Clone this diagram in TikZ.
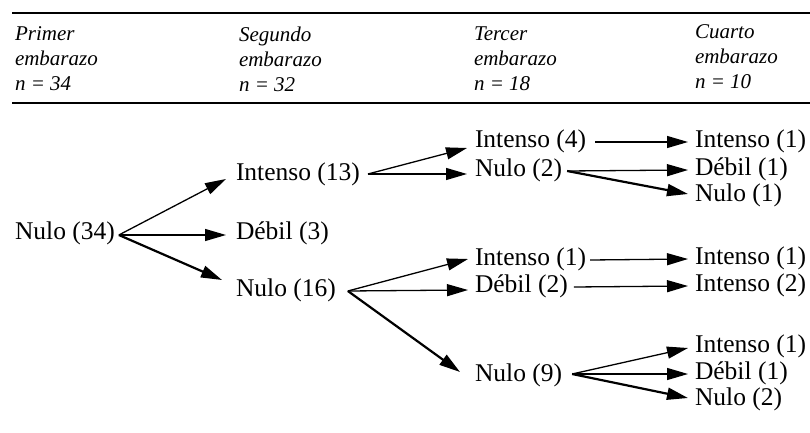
\documentclass[tikz,border=0pt]{standalone}
\usepackage{fontspec}
\setmainfont{Liberation Serif}
\usetikzlibrary{arrows.meta,calc}
\begin{document}
\begin{tikzpicture}[x=1pt,y=-1pt]
\tikzset{
  lbl/.style={anchor=west, inner sep=0pt, outer sep=0pt,
    font=\fontsize{25.5}{30}\selectfont, text height=17pt, text depth=6pt},
  hdr/.style={anchor=north west, inner sep=0pt, outer sep=0pt, align=left,
    font=\fontsize{21}{25}\selectfont\itshape},
  arr/.style={-{Triangle[length=21pt,width=12pt]}, line width=1.3pt},
  tarr/.style={arr, line width=2.2pt},
  rulebar/.style={line width=1.5pt}
}
\fill[white] (0,0) rectangle (810,433);
\useasboundingbox (0,0) rectangle (810,433);

% header rules
\draw[rulebar] (12,13) -- (810,13);
\draw[rulebar] (12,103) -- (810,103);

% header
\node[hdr] (h1) at (15,27) {Primer\\embarazo\\n = 34};
\node[hdr] (h2) at (239,27) {Segundo\\embarazo\\n = 32};
\node[hdr] (h3) at (474,27) {Tercer\\embarazo\\n = 18};
\node[hdr] (h4) at (695,25) {Cuarto\\embarazo\\n = 10};

% tree nodes
\node[lbl] (n34) at (15,234) {Nulo (34)};
\node[lbl] (i13) at (236,175) {Intenso (13)};
\node[lbl] (d3)  at (236,234) {Débil (3)};
\node[lbl] (n16) at (236,291) {Nulo (16)};

\node[lbl] (i4)  at (475,142) {Intenso (4)};
\node[lbl] (n2)  at (475,171) {Nulo (2)};
\node[lbl] (i1a) at (475,260) {Intenso (1)};
\node[lbl] (d2)  at (475,287) {Débil (2)};
\node[lbl] (n9)  at (475,376) {Nulo (9)};

\node[lbl] (i1b) at (695,142) {Intenso (1)};
\node[lbl] (d1a) at (695,170) {Débil (1)};
\node[lbl] (n1)  at (695,196) {Nulo (1)};
\node[lbl] (i1c) at (695,259) {Intenso (1)};
\node[lbl] (i2)  at (695,286) {Intenso (2)};
\node[lbl] (i1d) at (695,347) {Intenso (1)};
\node[lbl] (d1b) at (695,374) {Débil (1)};
\node[lbl] (n2b) at (695,400) {Nulo (2)};

% arrows level 1
\draw[arr]  ([xshift=4pt,yshift=-1pt]n34.east) -- ([xshift=-10pt,yshift=-4pt]i13.west);
\draw[arr]  ([xshift=4pt,yshift=-1pt]n34.east) -- ([xshift=-10pt,yshift=-1pt]d3.west);
\draw[tarr] ([xshift=4pt,yshift=-1pt]n34.east) -- ([xshift=-14pt,yshift=11pt]n16.west);

% arrows level 2
\draw[arr]  ([xshift=8pt,yshift=1pt]i13.east) -- ([xshift=-8pt,yshift=-6pt]i4.west);
\draw[arr]  ([xshift=8pt,yshift=1pt]i13.east) -- ([xshift=-8pt,yshift=-3pt]n2.west);
\draw[arr]  ([xshift=12pt]n16.east) -- ([xshift=-7pt,yshift=1pt]i1a.west);
\draw[arr]  ([xshift=12pt]n16.east) -- ([xshift=-7pt,yshift=-3pt]d2.west);
\draw[tarr] ([xshift=12pt]n16.east) -- ([xshift=-15pt,yshift=4pt]n9.west);

% arrows level 3
\draw[arr]  ([xshift=9pt]i4.east) -- ([xshift=-7pt]i1b.west);
\draw[arr]  ([xshift=5pt]n2.east) -- ([xshift=-7pt]d1a.west);
\draw[tarr] ([xshift=5pt]n2.east) -- ([xshift=-7pt,yshift=2pt]n1.west);
\draw[arr]  ([xshift=4pt]i1a.east) -- ([xshift=-7pt]i1c.west);
\draw[arr]  ([xshift=6pt]d2.east) -- ([xshift=-7pt]i2.west);
\draw[arr]  ([xshift=10pt,yshift=2pt]n9.east) -- ([xshift=-7pt,yshift=-1pt]i1d.west);
\draw[arr]  ([xshift=10pt,yshift=2pt]n9.east) -- ([xshift=-7pt]d1b.west);
\draw[tarr] ([xshift=10pt,yshift=2pt]n9.east) -- ([xshift=-7pt,yshift=2pt]n2b.west);
\end{tikzpicture}
\end{document}
